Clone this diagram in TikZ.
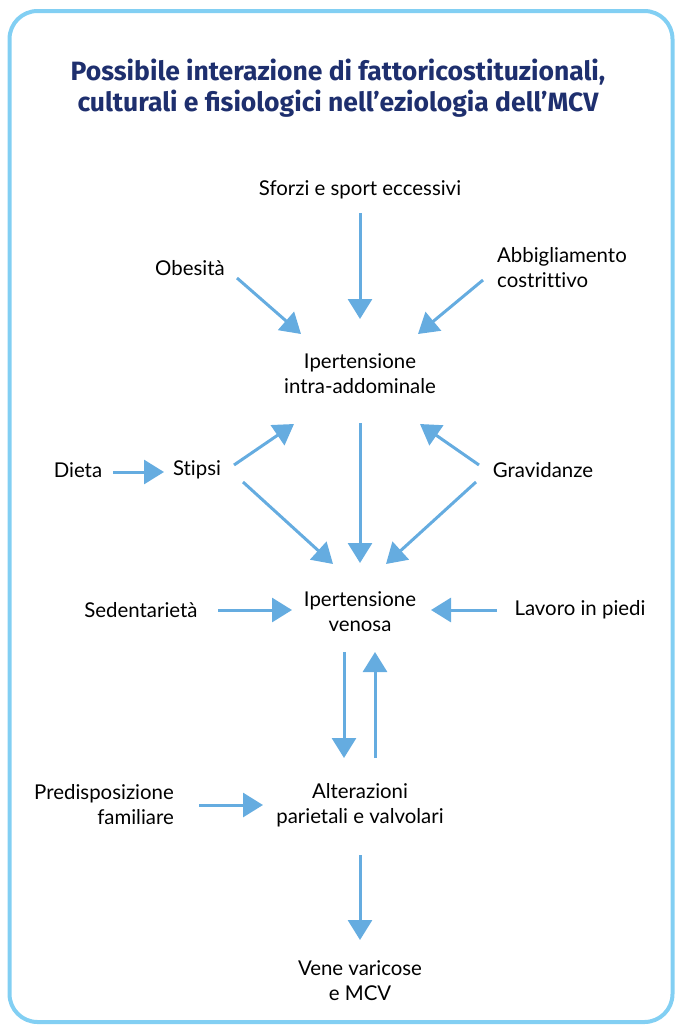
\documentclass[tikz,border=0pt]{standalone}
\usepackage{fontspec}
\setmainfont{Lato}[Ligatures=NoCommon]
\newfontfamily\titlefont{Fira Sans}
\usetikzlibrary{arrows.meta}
\definecolor{bordc}{HTML}{82CFF3}
\definecolor{arrc}{HTML}{65ACE0}
\definecolor{titc}{HTML}{1E2F6E}
\tikzset{
  lbl/.style={inner sep=0pt, align=center, font=\fontsize{20.4}{25}\selectfont, text=black},
  arr/.style={draw=arrc, line width=3pt, -{Triangle[width=24pt,length=20pt]}},
  ttl/.style={inner sep=0pt, align=center, text=titc, font=\titlefont\bfseries\fontsize{26.5}{31}\selectfont}
}
\begin{document}
\begin{tikzpicture}[x=1pt,y=-1pt]
\useasboundingbox (0,0) rectangle (675,1026);
\draw[bordc, line width=4pt, rounded corners=28pt] (9.5,11) rectangle (672.5,1022);

\node[ttl] (title) at (338,88) {Possibile interazione di fattoricostituzionali,\\culturali e fisiologici nell’eziologia dell’MCV};

\node[lbl] (sforzi) at (360,190) {Sforzi e sport eccessivi};
\node[lbl] (obes) at (190,268) {Obesità};
\node[lbl, anchor=west, align=left] (abbig) at (497,268) {Abbigliamento\\costrittivo};
\node[lbl] (intra) at (360,374) {Ipertensione\\intra-addominale};
\node[lbl] (dieta) at (78,470) {Dieta};
\node[lbl] (stipsi) at (197,470) {Stipsi};
\node[lbl] (grav) at (543,470) {Gravidanze};
\node[lbl] (venosa) at (360,612) {Ipertensione\\venosa};
\node[lbl] (sed) at (141,610) {Sedentarietà};
\node[lbl] (lav) at (580,610) {Lavoro in piedi};
\node[lbl, anchor=east, align=right] (pred) at (174,805) {Predisposizione\\familiare};
\node[lbl] (alter) at (360,805) {Alterazioni\\parietali e valvolari};
\node[lbl] (vene) at (360,981) {Vene varicose\\e MCV};

% arrow end points
\coordinate (a1s) at (360,213); \coordinate (a1e) at (360,319);
\coordinate (a2s) at (237,278); \coordinate (a2e) at (301,334);
\coordinate (a3s) at (483,280); \coordinate (a3e) at (418,334);
\coordinate (a4s) at (234,465); \coordinate (a4e) at (294,424);
\coordinate (a5s) at (479,465); \coordinate (a5e) at (420,424);
\coordinate (a6s) at (113,472); \coordinate (a6e) at (164,472);
\coordinate (a7s) at (360,423); \coordinate (a7e) at (360,563);
\coordinate (a8s) at (243,482); \coordinate (a8e) at (333,564);
\coordinate (a9s) at (476,482); \coordinate (a9e) at (386,564);
\coordinate (a10s) at (218,610); \coordinate (a10e) at (292,610);
\coordinate (a11s) at (497,610); \coordinate (a11e) at (431,610);
\coordinate (a12s) at (344,652); \coordinate (a12e) at (344,758);
\coordinate (a13s) at (375,758); \coordinate (a13e) at (375,652);
\coordinate (a14s) at (199,805); \coordinate (a14e) at (263,805);
\coordinate (a15s) at (360,855); \coordinate (a15e) at (360,940);

\draw[arr] (a1s) -- (a1e);
\draw[arr] (a2s) -- (a2e);
\draw[arr] (a3s) -- (a3e);
\draw[arr] (a4s) -- (a4e);
\draw[arr] (a5s) -- (a5e);
\draw[arr] (a6s) -- (a6e);
\draw[arr] (a7s) -- (a7e);
\draw[arr] (a8s) -- (a8e);
\draw[arr] (a9s) -- (a9e);
\draw[arr] (a10s) -- (a10e);
\draw[arr] (a11s) -- (a11e);
\draw[arr] (a12s) -- (a12e);
\draw[arr] (a13s) -- (a13e);
\draw[arr] (a14s) -- (a14e);
\draw[arr] (a15s) -- (a15e);
\end{tikzpicture}
\end{document}
